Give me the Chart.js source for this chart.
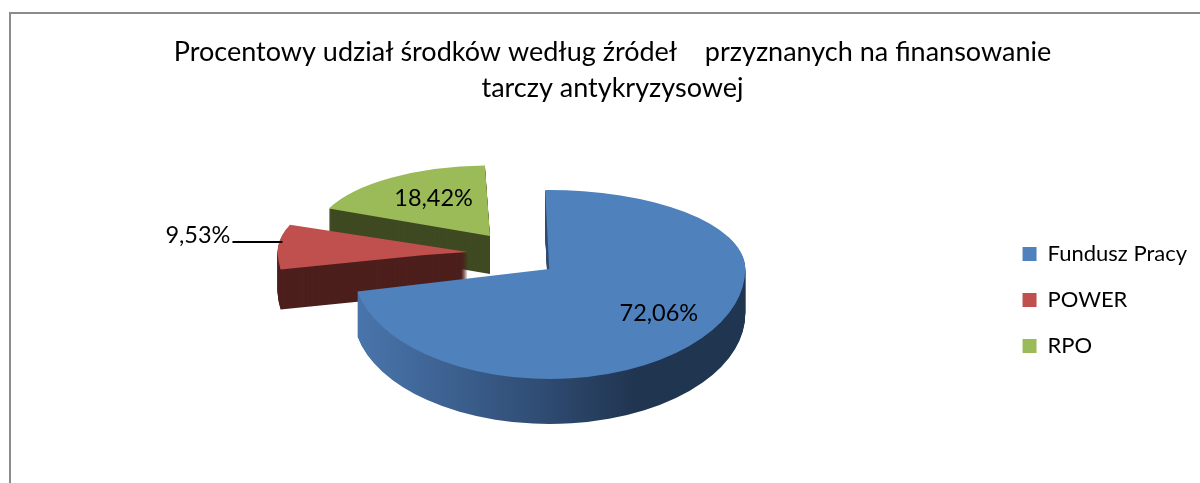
<!DOCTYPE html>
<html lang="pl">
<head>
    <meta charset="UTF-8" />
    <title>Procentowy udział środków</title>
    <script src="https://cdn.jsdelivr.net/npm/chart.js"></script>
    <style>
        html, body { margin: 0; padding: 0; background: #fff; overflow: hidden; }
        #frame {
            position: absolute; left: 9px; top: 12px; width: 1191px; height: 471px;
            border-left: 2px solid #8c8c8c; border-top: 2px solid #8c8c8c;
            box-sizing: border-box;
        }
        #pie { position: absolute; left: 0; top: 0; }
    </style>
</head>
<body>
    <div id="frame"></div>
    <canvas id="pie" width="1200" height="483"></canvas>

    <script type="text/javascript">
        const titleLines = ['Procentowy udział środków według źródeł    przyznanych na finansowanie', 'tarczy antykryzysowej'];
        const categories = ['Fundusz Pracy', 'POWER', 'RPO'];
        const shares = [72.06, 9.53, 18.42];

        const topColors = ['#4f81bd', '#c0504d', '#9bbb59'];
        const wallColors = [null, '#4d1f1c', '#3f4a22'];
        const FONT = 'Lato, Carlito, sans-serif';

        // fake perspective: the far half of the pie is squashed more than the near half
        const BASE_RADIUS = 196;
        const squashFar = 79 / 196;
        const squashNear = 110 / 196;
        const sliceOffset = [0, 328, 420];
        const sliceRadius = [196, 190, 175];
        const sliceLift = [0, -14, 2];
        const wallDepth = [45, 40, 38];
        const labelRadius = [140, 186, 100];
        const labelLift = [-4, 0, -4];

        function pivotY(chart) {
            return Math.round((chart.chartArea.top + chart.chartArea.bottom) / 2);
        }

        function paintArc(chart, arc, fill, dy) {
            const ctx = chart.ctx;
            const cy = pivotY(chart);
            const saved = arc.options;
            arc.options = Object.assign({}, saved, { backgroundColor: fill, borderWidth: 0 });
            [[0, cy, squashFar], [cy, chart.height, squashNear]].forEach(function (part) {
                ctx.save();
                ctx.translate(0, dy);
                ctx.beginPath();
                ctx.rect(0, part[0], chart.width, part[1] - part[0]);
                ctx.clip();
                ctx.translate(0, cy);
                ctx.scale(1, part[2]);
                ctx.translate(0, -cy);
                arc.draw(ctx);
                ctx.restore();
            });
            arc.options = saved;
        }

        function project(chart, arc, i, r) {
            const mid = (arc.startAngle + arc.endAngle) / 2;
            const len = sliceOffset[i] / 4 + r;
            const ry = Math.sin(mid) * len;
            return {
                x: arc.x + Math.cos(mid) * len,
                y: pivotY(chart) + ry * (ry < 0 ? squashFar : squashNear) + sliceLift[i] + labelLift[i]
            };
        }

        const pie3d = {
            id: 'pie3d',
            afterLayout(chart) {
                chart.legend.left -= 3;
                chart.legend.top += 88;
                chart.legend.bottom += 88;
                chart.titleBlock.left -= 36;
                chart.titleBlock.right -= 36;
            },
            afterDatasetsUpdate(chart) {
                // Arc.draw grows the radius of offset slices, take that back out
                chart.getDatasetMeta(0).data.forEach(function (arc, i) {
                    const fix = 1 - Math.sin(Math.min(Math.PI, arc.circumference));
                    arc.outerRadius = sliceRadius[i] - sliceOffset[i] / 4 * fix;
                });
            },
            beforeDatasetDraw(chart) {
                const arcs = chart.getDatasetMeta(0).data;
                const left = arcs[0].x - BASE_RADIUS;
                const right = arcs[0].x + BASE_RADIUS;
                const grad = chart.ctx.createLinearGradient(left, 0, right, 0);
                grad.addColorStop(0, '#4a76ad');
                grad.addColorStop(0.2, '#3f6596');
                grad.addColorStop(0.5, '#2e4a70');
                grad.addColorStop(0.72, '#203550');
                grad.addColorStop(1, '#203550');
                for (let i = arcs.length - 1; i >= 0; i--) {
                    for (let d = wallDepth[i]; d >= 1; d--) {
                        paintArc(chart, arcs[i], wallColors[i] || grad, d + sliceLift[i]);
                    }
                    paintArc(chart, arcs[i], topColors[i], sliceLift[i]);
                }
                return false;
            },
            afterDatasetsDraw(chart) {
                const ctx = chart.ctx;
                const arcs = chart.getDatasetMeta(0).data;
                ctx.save();
                ctx.font = '23.5px ' + FONT;
                ctx.fillStyle = '#000';
                ctx.textBaseline = 'middle';
                shares.forEach(function (v, i) {
                    const text = v.toFixed(2).replace('.', ',') + '%';
                    const p = project(chart, arcs[i], i, labelRadius[i]);
                    if (i === 1) {
                        // outside label with a leader line
                        ctx.strokeStyle = '#000';
                        ctx.lineWidth = 2;
                        ctx.beginPath();
                        ctx.moveTo(p.x, p.y - 3);
                        ctx.lineTo(p.x - 50, p.y - 3);
                        ctx.stroke();
                        ctx.textAlign = 'right';
                        ctx.fillText(text, p.x - 52, p.y - 10);
                    } else {
                        ctx.textAlign = 'center';
                        ctx.fillText(text, p.x, p.y);
                    }
                });
                ctx.restore();
            }
        };

        new Chart(document.getElementById('pie'), {
            type: 'pie',
            data: {
                labels: categories,
                datasets: [{
                    data: shares,
                    backgroundColor: topColors,
                    borderWidth: 0,
                    offset: sliceOffset,
                    radius: BASE_RADIUS
                }]
            },
            options: {
                responsive: false,
                animation: false,
                rotation: -1.2,
                layout: { padding: { left: 97, right: 0, top: 12, bottom: 71 } },
                plugins: {
                    tooltip: { enabled: false },
                    title: {
                        display: true,
                        text: titleLines,
                        color: '#000',
                        font: { family: FONT, size: 27, weight: 'normal', lineHeight: 1.333 },
                        padding: { top: 22, bottom: 20 }
                    },
                    legend: {
                        position: 'right',
                        labels: {
                            color: '#000',
                            boxWidth: 14,
                            boxHeight: 14,
                            padding: 24,
                            font: { family: FONT, size: 22 }
                        }
                    }
                }
            },
            plugins: [pie3d]
        });
    </script>
</body>
</html>
